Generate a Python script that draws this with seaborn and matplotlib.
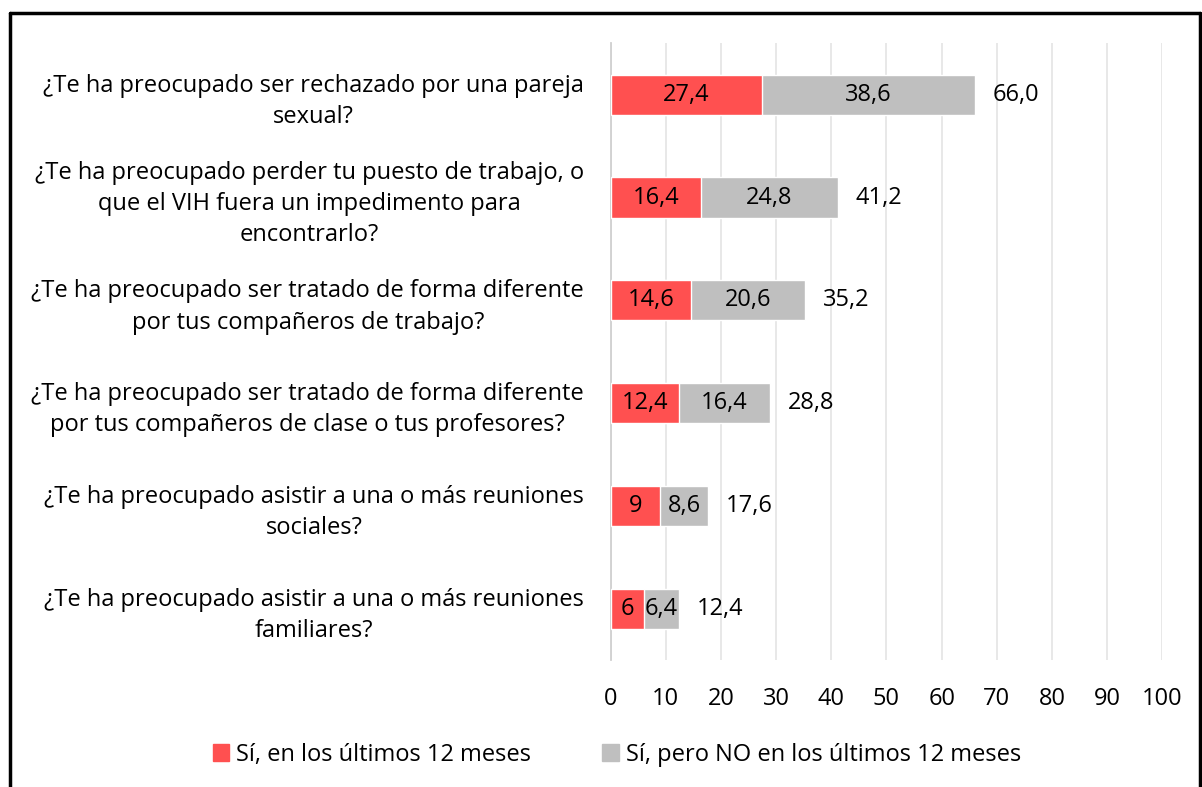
import pandas as pd
import seaborn as sns
import matplotlib.pyplot as plt
from matplotlib.lines import Line2D
from matplotlib.patches import Patch

# data
preguntas = [
    "¿Te ha preocupado ser rechazado por una pareja\nsexual?",
    "¿Te ha preocupado perder tu puesto de trabajo, o\nque el VIH fuera un impedimento para\nencontrarlo?",
    "¿Te ha preocupado ser tratado de forma diferente\npor tus compañeros de trabajo?",
    "¿Te ha preocupado ser tratado de forma diferente\npor tus compañeros de clase o tus profesores?",
    "¿Te ha preocupado asistir a una o más reuniones\nsociales?",
    "¿Te ha preocupado asistir a una o más reuniones\nfamiliares?",
]
si_12m = [27.4, 16.4, 14.6, 12.4, 9, 6]
si_no_12m = [38.6, 24.8, 20.6, 16.4, 8.6, 6.4]
leyenda = ["Sí, en los últimos 12 meses", "Sí, pero NO en los últimos 12 meses"]

ROJO = "#FF5050"
GRIS = "#BFBFBF"
FS = 17

df = pd.DataFrame({"pregunta": preguntas, "rojo": si_12m, "gris": si_no_12m})
df["total"] = df["rojo"] + df["gris"]

sns.set_theme(style="white")
plt.rcParams["font.family"] = ["Open Sans", "DejaVu Sans"]
plt.rcParams["text.color"] = "black"
plt.rcParams["xtick.color"] = "black"
plt.rcParams["ytick.color"] = "black"

fig = plt.figure(figsize=(12.02, 7.87), dpi=100)
ax = fig.add_axes([0.508, 0.161, 0.459, 0.784])

# stacked: total in grey first, red on top
sns.barplot(data=df, x="total", y="pregunta", orient="h", color=GRIS,
            width=0.39, saturation=1, ax=ax, zorder=2)
sns.barplot(data=df, x="rojo", y="pregunta", orient="h", color=ROJO,
            width=0.39, saturation=1, ax=ax, zorder=3)


def fmt(v):
    if float(v).is_integer() and v < 10:
        return str(int(v))
    return f"{v:.1f}".replace(".", ",")


for i, r in df.iterrows():
    ax.text(r["rojo"] / 2, i, fmt(r["rojo"]), ha="center", va="center",
            fontsize=FS, color="black", zorder=4)
    ax.text(r["rojo"] + r["gris"] / 2, i, f"{r['gris']:.1f}".replace(".", ","),
            ha="center", va="center", fontsize=FS, color="black", zorder=4)
    ax.annotate(f"{r['total']:.1f}".replace(".", ","), (r["total"], i),
                xytext=(13, 0), textcoords="offset points",
                ha="left", va="center", fontsize=FS, color="black")

ax.set_xlim(0, 100)
ax.set_xticks(range(0, 101, 10))
ax.set_xlabel("")
ax.set_ylabel("")
ax.grid(axis="x", color="#E6E6E6", linewidth=1.3, zorder=0)
ax.set_axisbelow(True)
for s in ["top", "right", "bottom"]:
    ax.spines[s].set_visible(False)
ax.spines["left"].set_color("#D0D0D0")
ax.spines["left"].set_linewidth(1.3)
ax.tick_params(axis="x", length=0, pad=19, labelsize=FS)
ax.tick_params(axis="y", length=0, pad=19, labelsize=FS)
for lab in ax.get_yticklabels():
    lab.set_multialignment("center")
    lab.set_linespacing(1.4)

handles = [Patch(color=ROJO, label=leyenda[0]), Patch(color=GRIS, label=leyenda[1])]
fig.legend(handles=handles, loc="center", bbox_to_anchor=(617 / 1202, 1 - 755 / 787),
           ncol=2, frameon=False, fontsize=FS, handlelength=0.7, handleheight=0.7,
           handletextpad=0.3, columnspacing=3.0)

# outer frame (bottom edge is cut off in the original)
lw = 2.5
fig.add_artist(Line2D([10 / 1202, 10 / 1202], [0, 1 - 13 / 787], color="black", lw=lw,
                      transform=fig.transFigure))
fig.add_artist(Line2D([10 / 1202, 1200 / 1202], [1 - 13 / 787, 1 - 13 / 787], color="black",
                      lw=lw, transform=fig.transFigure))
fig.add_artist(Line2D([1200 / 1202, 1200 / 1202], [0, 1 - 13 / 787], color="black", lw=lw,
                      transform=fig.transFigure))

fig.savefig("out.png", dpi=100)
